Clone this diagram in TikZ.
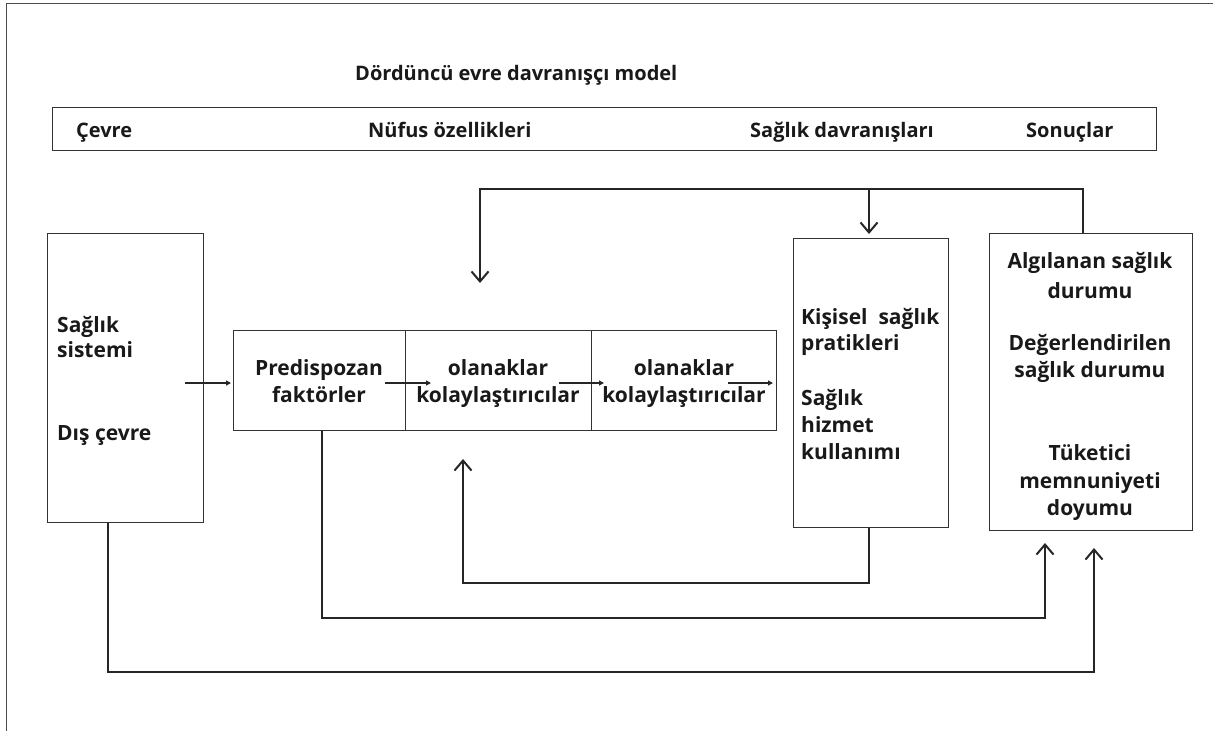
\documentclass[tikz,border=0pt]{standalone}
\usepackage{fontspec}
\setmainfont{Open Sans}
\usetikzlibrary{arrows.meta}

\tikzset{
  framebox/.style={draw=black!80, line width=1pt, inner sep=0pt},
  lbl/.style={font=\bfseries\fontsize{21}{25}\selectfont, text=black!90, inner sep=0pt},
  hlbl/.style={font=\bfseries\fontsize{20}{24}\selectfont, text=black!90, inner sep=0pt},
  conn/.style={draw=black!85, line width=2.2pt},
  bigtip/.style={-{Straight Barb[length=10pt,width=17pt,line width=2pt]}},
  smalltip/.style={draw=black!85, line width=1.6pt, -{Triangle[length=5pt,width=5pt]}},
}

\begin{document}
\begin{tikzpicture}[x=1pt,y=-1pt]
\useasboundingbox (0,0) rectangle (1213,731);

% outer frame: top and left edges only
\draw[draw=black!70, line width=1pt] (6,731) -- (6,3) -- (1213,3);

% title
\node[hlbl, anchor=base west] (title) at (355,80) {Dördüncü evre davranışçı model};

% header bar
\node[framebox, minimum width=1104pt, minimum height=43pt, anchor=north west] (hbar) at (52,107) {};
\node[hlbl, anchor=base west] (h1) at (76,137) {Çevre};
\node[hlbl, anchor=base west] (h2) at (368,137) {Nüfus özellikleri};
\node[hlbl, anchor=base west] (h3) at (750,137) {Sağlık davranışları};
\node[hlbl, anchor=base west] (h4) at (1026,137) {Sonuçlar};

% environment box
\node[framebox, minimum width=156pt, minimum height=289pt, anchor=north west] (env) at (47,233) {};
\node[lbl, anchor=base west] (e1) at (57,332) {Sağlık};
\node[lbl, anchor=base west] (e2) at (57,357) {sistemi};
\node[lbl, anchor=base west] (e3) at (57,440) {Dış çevre};

% population characteristics: three cells
\node[framebox, minimum width=172pt, minimum height=100pt, anchor=north west] (pre) at (233,330) {};
\node[framebox, minimum width=186pt, minimum height=100pt, anchor=north west] (en1) at (405,330) {};
\node[framebox, minimum width=185pt, minimum height=100pt, anchor=north west] (en2) at (591,330) {};
\node[lbl, anchor=base] (p1) at (319,375) {Predispozan};
\node[lbl, anchor=base] (p2) at (319,402) {faktörler};
\node[lbl, anchor=base] (q1) at (498,375) {olanaklar};
\node[lbl, anchor=base] (q2) at (498,402) {kolaylaştırıcılar};
\node[lbl, anchor=base] (r1) at (684,375) {olanaklar};
\node[lbl, anchor=base] (r2) at (684,402) {kolaylaştırıcılar};

% health behaviour box
\node[framebox, minimum width=155pt, minimum height=289pt, anchor=north west] (beh) at (793,238) {};
\node[lbl, anchor=base west] (b1) at (801,324) {Kişisel\ \ sağlık};
\node[lbl, anchor=base west] (b2) at (801,350) {pratikleri};
\node[lbl, anchor=base west] (b3) at (801,405) {Sağlık};
\node[lbl, anchor=base west] (b4) at (801,432) {hizmet};
\node[lbl, anchor=base west] (b5) at (801,459) {kullanımı};

% outcomes box
\node[framebox, minimum width=203pt, minimum height=297pt, anchor=north west] (out) at (989,233) {};
\node[lbl, anchor=base] (o1) at (1090,268) {Algılanan sağlık};
\node[lbl, anchor=base] (o2) at (1090,298) {durumu};
\node[lbl, anchor=base] (o3) at (1090,350) {Değerlendirilen};
\node[lbl, anchor=base] (o4) at (1090,377) {sağlık durumu};
\node[lbl, anchor=base] (o5) at (1090,460) {Tüketici};
\node[lbl, anchor=base] (o6) at (1090,488) {memnuniyeti};
\node[lbl, anchor=base] (o7) at (1090,515) {doyumu};

% short forward arrows across the cells
\coordinate (s0) at (185,383); \coordinate (s0e) at (231,383);
\coordinate (s1) at (385,383); \coordinate (s1e) at (431,383);
\coordinate (s2) at (559,383); \coordinate (s2e) at (604,383);
\coordinate (s3) at (728,383); \coordinate (s3e) at (773,383);
\draw[smalltip] (s0) -- (s0e);
\draw[smalltip] (s1) -- (s1e);
\draw[smalltip] (s2) -- (s2e);
\draw[smalltip] (s3) -- (s3e);

% feedback from outcomes over the top
\coordinate (fbtop) at (1083,189);
\coordinate (fbleft) at (480,189);
\coordinate (fbtip) at (480,283);
\coordinate (fbmid) at (869,189);
\coordinate (fbmidtip) at (869,234);
\draw[conn, bigtip] (out.north -| fbtop) -- (fbtop) -- (fbleft) -- (fbtip);
\draw[conn, bigtip] (fbmid) -- (fbmidtip);

% behaviour back to enabling factors
\coordinate (bb) at (869,583);
\coordinate (bbl) at (463,583);
\coordinate (bbtip) at (463,459);
\draw[conn, bigtip] (beh.south -| bb) -- (bb) -- (bbl) -- (bbtip);

% predisposing factors to outcomes
\coordinate (pd) at (322,618);
\coordinate (pdr) at (1045,618);
\coordinate (pdtip) at (1045,543);
\draw[conn, bigtip] (pre.south -| pd) -- (pd) -- (pdr) -- (pdtip);

% environment to outcomes
\coordinate (ed) at (108,672);
\coordinate (edr) at (1094,672);
\coordinate (edtip) at (1094,548);
\draw[conn, bigtip] (env.south -| ed) -- (ed) -- (edr) -- (edtip);
\end{tikzpicture}
\end{document}
